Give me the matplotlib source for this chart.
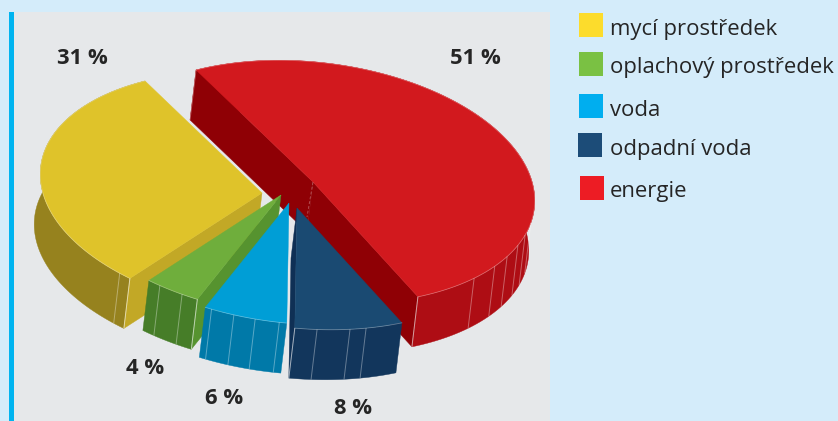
import numpy as np
import matplotlib.pyplot as plt
from matplotlib.patches import Polygon, Rectangle

labels = ['mycí prostředek', 'oplachový prostředek', 'voda', 'odpadní voda', 'energie']
shares = [31, 4, 6, 8, 51]

top_colors = ['#dfc32a', '#6fae3c', '#009ed6', '#1a4a72', '#d2191e']
wall_colors = ['#96821e', '#467d28', '#0079a8', '#12365c', '#ae0d14']
cut_colors = ['#c2a826', '#56932f', '#0079a8', '#0f3055', '#8f0005']
legend_colors = ['#fcdc2c', '#7ac143', '#00aeef', '#1c4c78', '#ed1c24']

# pie projection, pixel units
U = np.array([111.0, 113.5])
V = np.array([192.0, -44.0])
DEPTH = np.array([-6.0, 50.0])
START = 181.8
apexes = [(262, 193), (281, 195), (289, 203), (297, 208), (313, 182)]
radii = [1.0, 1.0, 1.0, 1.0, 1.0]
draw_order = [4, 0, 1, 2, 3]

# seams on the side walls, as a fraction of each slice
seams = [[0.97, 1.0],
         [0.24, 0.70, 1.0],
         [0.08, 0.36, 0.62, 0.91],
         [0.0, 0.2, 0.5, 0.65],
         [0.0, 0.10, 0.146, 0.179, 0.214, 0.244, 0.277]]

legend_boxes = [(579, 13), (579, 52), (579, 94), (578, 133), (580, 176)]
legend_text_y = [29, 68, 111, 149, 192]
value_pos = [(82, 58), (145, 368), (224, 398), (353, 408), (475, 59)]


def project(apex, t, r=1.0):
    t = np.radians(t)
    return np.asarray(apex) + r * (np.outer(np.cos(t), U) + np.outer(np.sin(t), V))


def cross(a, b):
    return a[0] * b[1] - a[1] * b[0]


fig = plt.figure(figsize=(8.38, 4.21), dpi=100, facecolor='#d4ecfa')
ax = fig.add_axes([0, 0, 1, 1])
ax.set_xlim(0, 838)
ax.set_ylim(421, 0)
ax.axis('off')

ax.add_patch(Rectangle((14, 12), 536, 409, color='#e6e8ea', lw=0))
ax.add_patch(Rectangle((9, 12), 5, 409, color='#00b4f0', lw=0))

edges = START + np.cumsum([0] + shares) * 3.6

for i in draw_order:
    a0, a1 = edges[i], edges[i + 1]
    apex = np.array(apexes[i], dtype=float)
    arc = project(apex, np.linspace(a0, a1, 120), radii[i])
    inward = arc[60] - apex

    # outer wall
    wall = np.vstack([arc, (arc + DEPTH)[::-1]])
    ax.add_patch(Polygon(wall, closed=True, fc=wall_colors[i], ec=wall_colors[i], lw=0.3))
    for f in seams[i]:
        p = project(apex, [a0 + f * (a1 - a0)], radii[i])[0]
        ax.plot([p[0], p[0] + DEPTH[0]], [p[1], p[1] + DEPTH[1]], color='white',
                alpha=0.35, lw=0.7, solid_capstyle='butt')

    # cut faces, only the one turned to the viewer
    for end in (arc[0], arc[-1]):
        edge = end - apex
        if cross(edge, DEPTH) * cross(edge, inward) < 0:
            face = [apex, end, end + DEPTH, apex + DEPTH]
            ax.add_patch(Polygon(face, closed=True, fc=cut_colors[i], ec=cut_colors[i], lw=0.3))
            ax.plot([end[0], end[0] + DEPTH[0]], [end[1], end[1] + DEPTH[1]], color='white',
                    alpha=0.35, lw=0.7, solid_capstyle='butt')

    # top
    top = np.vstack([apex, arc])
    ax.add_patch(Polygon(top, closed=True, fc=top_colors[i], ec=top_colors[i], lw=0.3))
    ax.plot(arc[:, 0], arc[:, 1], color='white', alpha=0.3, lw=0.6)

# seam on the red cut face, under the centre
red_apex = np.array(apexes[4], dtype=float)
ax.plot([red_apex[0], red_apex[0] + DEPTH[0]], [red_apex[1], red_apex[1] + DEPTH[1] * 0.7],
        color='white', alpha=0.3, lw=0.7, ls=(0, (3, 2)), zorder=1.5)

for i in range(len(labels)):
    x, y = legend_boxes[i]
    ax.add_patch(Rectangle((x, y), 24, 24, color=legend_colors[i], lw=0))
    ax.text(610, legend_text_y[i], labels[i], family='Open Sans', fontsize=15.9,
            color='#252525', va='center', ha='left')
    ax.text(value_pos[i][0], value_pos[i][1], '%d %%' % shares[i], family='Open Sans',
            fontsize=15.8, fontweight='bold', color='#252525', va='center', ha='center')

plt.savefig('out.png', dpi=100, facecolor=fig.get_facecolor())
